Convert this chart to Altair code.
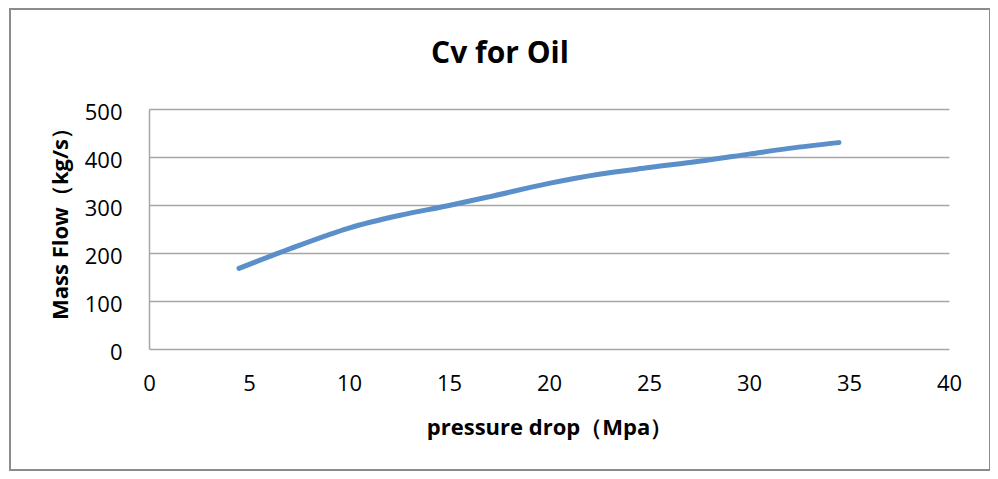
import altair as alt
import pandas as pd

pressure_drop = [4.5, 7, 10, 12.5, 15, 17, 20, 22.5, 25, 27.5, 30, 32, 34.5]
mass_flow = [168, 208, 252, 278, 299, 317, 345, 364, 378, 391, 406, 418, 430]
chart_title = ["Cv for Oil"]

df = pd.DataFrame({"pressure": pressure_drop, "flow": mass_flow})
title_df = pd.DataFrame({"t": chart_title})

FONT = "Open Sans"
GRID = "#a6a6a6"

line = alt.Chart(df).mark_line(
    color="#5b8fca", strokeWidth=5, strokeCap="round", interpolate="monotone"
).encode(
    x=alt.X(
        "pressure:Q",
        scale=alt.Scale(domain=[0, 40], nice=False),
        axis=alt.Axis(
            title="pressure drop（Mpa）",
            values=[0, 5, 10, 15, 20, 25, 30, 35, 40],
            grid=False, domain=False, ticks=False,
            labelFontSize=22, labelFont=FONT, labelColor="#000000",
            labelPadding=24, labelFlush=False,
            titleFont=FONT, titleFontSize=22, titleFontWeight="bold",
            titleColor="#000000", titleY=78, titleBaseline="middle",
        ),
    ),
    y=alt.Y(
        "flow:Q",
        scale=alt.Scale(domain=[0, 500], nice=False),
        axis=alt.Axis(
            title="Mass Flow（kg/s）",
            values=[0, 100, 200, 300, 400, 500],
            grid=True, gridColor=GRID, gridWidth=1.5,
            domain=True, domainColor=GRID, domainWidth=1.5,
            ticks=False,
            labelFontSize=22, labelFont=FONT, labelColor="#000000",
            labelPadding=27, labelOffset=3,
            titleFont=FONT, titleFontSize=22, titleFontWeight="bold",
            titleColor="#000000", titleX=-89, titleY=109,
            titleBaseline="middle", titleAngle=-90,
        ),
    ),
)

title = alt.Chart(title_df).mark_text(
    font=FONT, fontSize=30, fontWeight="bold", color="#000000",
    align="center", baseline="alphabetic",
).encode(
    text="t:N", x=alt.value(351), y=alt.value(-46)
)

border = alt.Chart(df).mark_rect(
    filled=False, stroke="#8c8c8c", strokeWidth=1.2
).encode(
    x=alt.value(-139), x2=alt.value(841), y=alt.value(-100), y2=alt.value(361)
)

chart = alt.layer(border, line, title).properties(
    width=800,
    height=240,
    autosize=alt.AutoSizeParams(type="none"),
    padding={"left": 141, "top": 101, "right": 41, "bottom": 122},
    background="#ffffff",
).configure_view(stroke=None)

chart.save("out.html", embed_options={"renderer": "svg", "actions": False})
